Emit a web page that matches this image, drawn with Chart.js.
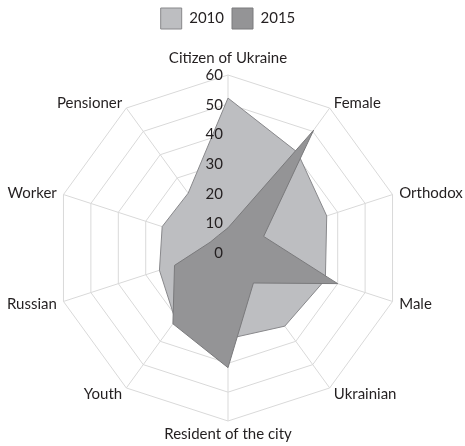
<!DOCTYPE html>
<html><head><meta charset="utf-8">
<script src="https://cdn.jsdelivr.net/npm/chart.js@4.4.1/dist/chart.umd.min.js"></script>
<style>html,body{margin:0;padding:0;background:#fff;overflow:hidden;}</style>
</head><body>
<canvas id="c" width="465" height="446"></canvas>
<script>
const categories = ["Citizen of Ukraine","Female","Orthodox","Male","Ukrainian","Resident of the city","Youth","Russian","Worker","Pensioner"];
const seriesNames = ["2010","2015"];
const values2010 = [52,41,36,35.5,33.5,31.5,31,25,24,23.5];
const values2015 = [7,50.5,13,40,15,41.5,32.5,19.5,6.5,5.5];
const tickValues = [0,10,20,30,40,50,60];

const FONT = 'Lato';
const TEXT = '#231f20';

// Tick labels drawn to the left of the vertical axis (as in the original)
const tickLabelPlugin = {
  id: 'tickLabels',
  afterDraw(chart) {
    const s = chart.scales.r, ctx = chart.ctx;
    ctx.save();
    ctx.font = '15px ' + FONT;
    ctx.fillStyle = TEXT;
    ctx.textAlign = 'right';
    ctx.textBaseline = 'middle';
    tickValues.forEach(v => {
      const d = s.getDistanceFromCenterForValue(v);
      const shift = (60 - v) / 60 * 5;
      ctx.fillText(String(v), s.xCenter - 5, s.yCenter - d + shift);
    });
    ctx.restore();
  }
};

// Category labels placed around the outer ring via the scale's point positions
const pointLabelPlugin = {
  id: 'pointLabelsOuter',
  afterDraw(chart) {
    const s = chart.scales.r, ctx = chart.ctx;
    ctx.save();
    ctx.font = '15px ' + FONT;
    ctx.fillStyle = TEXT;
    ctx.textBaseline = 'alphabetic';
    const capH = ctx.measureText('H').actualBoundingBoxAscent;
    categories.forEach((lab, i) => {
      const p0 = s.getPointPosition(i, s.drawingArea);
      const dx = p0.x - s.xCenter, dy = p0.y - s.yCenter;
      if (Math.abs(dx) < 1) {
        ctx.textAlign = 'center';
        if (dy < 0) {
          const p = s.getPointPosition(i, s.drawingArea + 12);
          ctx.fillText(lab, p.x, p.y);
        } else {
          const p = s.getPointPosition(i, s.drawingArea + 7);
          ctx.fillText(lab, p.x, p.y + capH);
        }
      } else {
        const p = s.getPointPosition(i, s.drawingArea + 7);
        ctx.textAlign = dx > 0 ? 'left' : 'right';
        ctx.fillText(lab, p.x, p.y + capH / 2);
      }
    });
    ctx.restore();
  }
};

new Chart(document.getElementById('c'), {
  type: 'radar',
  data: {
    labels: categories,
    datasets: [
      { label: seriesNames[0], data: values2010, order: 2,
        backgroundColor: '#bdbec1', borderColor: '#88888b', borderWidth: 1,
        pointRadius: 0, fill: true },
      { label: seriesNames[1], data: values2015, order: 1,
        backgroundColor: '#949496', borderColor: '#7a7a7c', borderWidth: 1,
        pointRadius: 0, fill: true }
    ]
  },
  options: {
    responsive: false,
    devicePixelRatio: 1,
    animation: false,
    elements: { line: { tension: 0 } },
    layout: { padding: { left: 55, right: 64, top: 0, bottom: 0 } },
    plugins: {
      legend: {
        position: 'top',
        labels: {
          boxWidth: 21, boxHeight: 21, color: TEXT,
          font: { family: FONT, size: 15 }, padding: 8,
          sort: (a, b) => a.datasetIndex - b.datasetIndex
        }
      },
      tooltip: { enabled: false }
    },
    scales: {
      r: {
        z: 1,
        min: 0, max: 60,
        afterSetDimensions: (s) => { s.yCenter += 6; },
        ticks: { display: false, stepSize: 10 },
        grid: { color: '#d9d9d9', lineWidth: 1 },
        angleLines: { color: '#d9d9d9', lineWidth: 1 },
        pointLabels: { display: false }
      }
    }
  },
  plugins: [tickLabelPlugin, pointLabelPlugin]
});
</script>
</body></html>
